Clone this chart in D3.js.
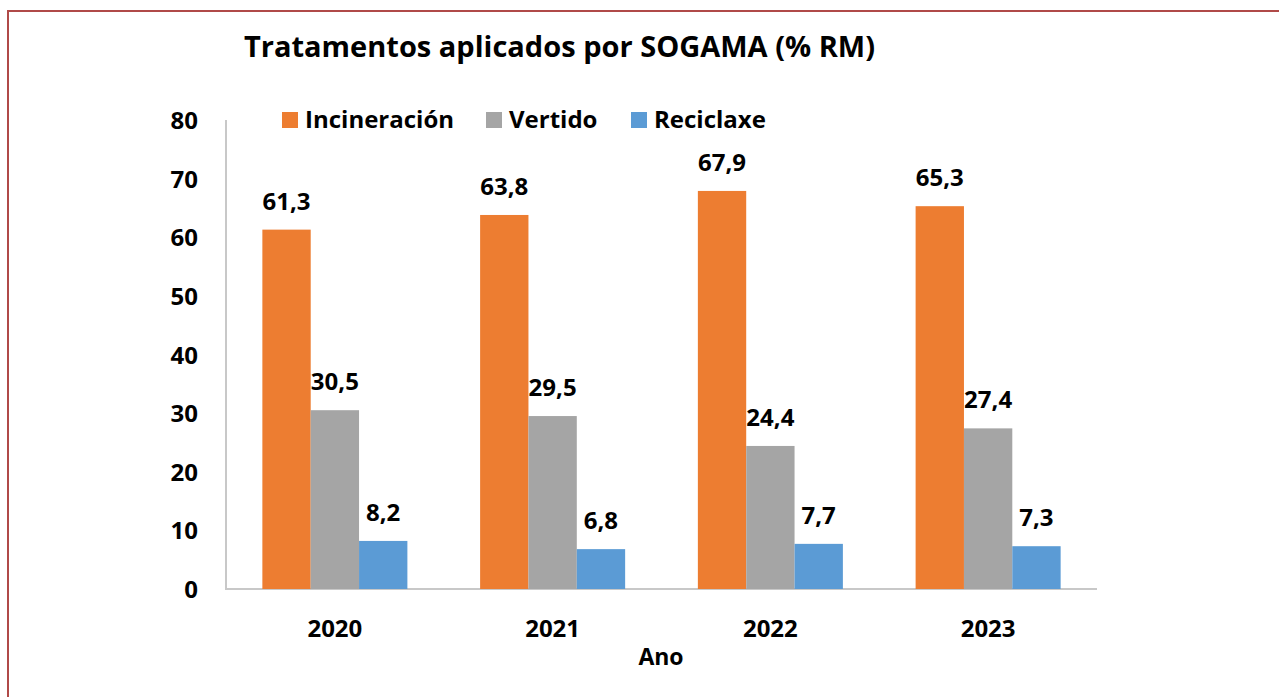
<!DOCTYPE html>
<html lang="gl">
<head>
  <meta charset="UTF-8">
  <title>Tratamentos aplicados por SOGAMA</title>
  <style>
    body { margin: 0; background: #fff; font-family: "Open Sans", Arial, sans-serif; }
    svg { display: block; }
    .bold { font-weight: bold; fill: #000; }
  </style>
</head>
<body>
<svg width="1279" height="697"></svg>

<script src="https://d3js.org/d3.v7.min.js"></script>
<script>
  const years = ["2020", "2021", "2022", "2023"];
  const seriesNames = ["Incineración", "Vertido", "Reciclaxe"];
  const colors = ["#ED7D31", "#A5A5A5", "#5B9BD5"];
  const incineracion = [61.3, 63.8, 67.9, 65.3];
  const vertido = [30.5, 29.5, 24.4, 27.4];
  const reciclaxe = [8.2, 6.8, 7.7, 7.3];
  const yTicks = [0, 10, 20, 30, 40, 50, 60, 70, 80];

  const values = [incineracion, vertido, reciclaxe];
  const svg = d3.select("svg");

  // outer frame (runs past the window on right/bottom)
  svg.append("path")
    .attr("d", "M8,700 L8,11 L1290,11")
    .attr("fill", "none")
    .attr("stroke", "#b04a48")
    .attr("stroke-width", 2);

  const x0 = 226, x1 = 1097, yTop = 120, yBot = 589;

  const x = d3.scaleBand().domain(years).range([x0, x1]).paddingInner(0.334).paddingOuter(0.167);
  const xs = d3.scaleBand().domain(seriesNames).range([0, x.bandwidth()]);
  const y = d3.scaleLinear().domain([0, 80]).range([yBot, yTop]);

  // title
  svg.append("text")
    .attr("class", "bold")
    .attr("x", 244).attr("y", 57)
    .attr("font-size", 29)
    .attr("textLength", 631)
    .text("Tratamentos aplicados por SOGAMA (% RM)");

  // axis lines
  svg.append("line")
    .attr("x1", x0).attr("x2", x0).attr("y1", yTop).attr("y2", yBot)
    .attr("stroke", "#c8c8c8").attr("stroke-width", 2);
  svg.append("line")
    .attr("x1", x0 - 1).attr("x2", x1).attr("y1", yBot).attr("y2", yBot)
    .attr("stroke", "#c8c8c8").attr("stroke-width", 2);

  // y tick labels
  svg.selectAll(".ytick").data(yTicks).enter().append("text")
    .attr("class", "bold")
    .attr("x", 198).attr("y", d => y(d) + 9)
    .attr("text-anchor", "end")
    .attr("font-size", 24)
    .text(d => d);

  // bars + value labels
  const groups = svg.selectAll(".yr").data(years).enter().append("g")
    .attr("transform", d => `translate(${x(d)},0)`);

  seriesNames.forEach((s, si) => {
    groups.append("rect")
      .attr("x", xs(s))
      .attr("width", xs.bandwidth())
      .attr("y", (d, i) => y(values[si][i]))
      .attr("height", (d, i) => yBot - y(values[si][i]))
      .attr("fill", colors[si]);

    groups.append("text")
      .attr("class", "bold")
      .attr("x", xs(s) + xs.bandwidth() / 2)
      .attr("y", (d, i) => y(values[si][i]) - 20)
      .attr("text-anchor", "middle")
      .attr("font-size", 24)
      .text((d, i) => values[si][i].toFixed(1).replace(".", ","));
  });

  // x labels
  svg.selectAll(".xl").data(years).enter().append("text")
    .attr("class", "bold")
    .attr("x", d => x(d) + x.bandwidth() / 2)
    .attr("y", 637)
    .attr("text-anchor", "middle")
    .attr("font-size", 24)
    .text(d => d);

  svg.append("text")
    .attr("class", "bold")
    .attr("x", 661).attr("y", 665)
    .attr("text-anchor", "middle")
    .attr("font-size", 23)
    .text("Ano");

  // legend
  const legendX = [282, 486, 631];
  seriesNames.forEach((s, i) => {
    svg.append("rect")
      .attr("x", legendX[i]).attr("y", 112)
      .attr("width", 16).attr("height", 16)
      .attr("fill", colors[i]);
    svg.append("text")
      .attr("class", "bold")
      .attr("x", legendX[i] + 23).attr("y", 128)
      .attr("font-size", 24)
      .text(s);
  });
</script>
</body>
</html>
